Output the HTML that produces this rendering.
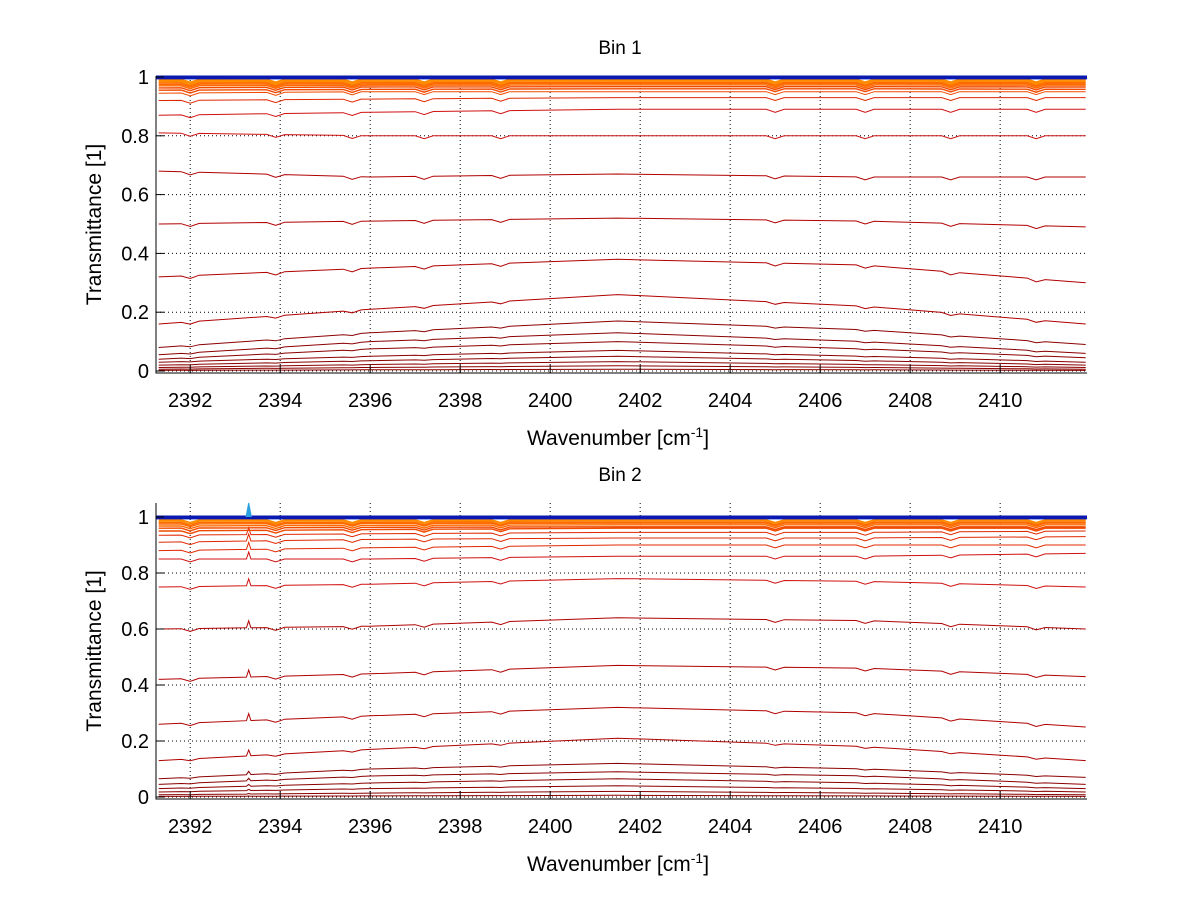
<!DOCTYPE html>
<html><head><meta charset="utf-8">
<style>
body{margin:0;background:#fff;}
svg{display:block;font-family:"Liberation Sans",sans-serif;}
</style></head>
<body>
<svg id="chart" width="1200" height="901" viewBox="0 0 1200 901"></svg>
<script>
// ---- data ----
const xTicks = [2392,2394,2396,2398,2400,2402,2404,2406,2408,2410];
const yTicks = [0,0.2,0.4,0.6,0.8,1];
const knotX = [2391.3,2396,2401.5,2407,2411.9];
const dipX = [2392,2393.9,2395.6,2397.2,2398.9,2405,2407,2408.9,2410.8];
const bin1Curves = [
 [0.002,0.004,0.006,0.004,0.002],[0.006,0.012,0.018,0.012,0.006],[0.012,0.022,0.032,0.022,0.012],
 [0.02,0.035,0.05,0.035,0.02],[0.03,0.05,0.07,0.05,0.03],[0.04,0.075,0.1,0.075,0.045],
 [0.055,0.1,0.13,0.1,0.06],[0.08,0.13,0.17,0.14,0.09],[0.16,0.21,0.26,0.22,0.16],
 [0.32,0.35,0.38,0.36,0.3],[0.5,0.51,0.52,0.51,0.49],[0.68,0.66,0.67,0.66,0.66],
 [0.81,0.8,0.8,0.8,0.8],[0.87,0.88,0.89,0.89,0.89],[0.92,0.925,0.93,0.93,0.93],
 [0.945,0.95,0.95,0.95,0.95],[0.955,0.958,0.96,0.96,0.958],[0.963,0.966,0.967,0.967,0.966],
 [0.97,0.972,0.973,0.973,0.972],[0.975,0.977,0.978,0.978,0.977],[0.98,0.981,0.982,0.982,0.981],
 [0.984,0.985,0.986,0.986,0.985],[0.988,0.989,0.99,0.99,0.989],[0.992,0.993,0.993,0.993,0.993]
];
const bin2Curves = [
 [0.002,0.004,0.006,0.004,0.002],[0.008,0.014,0.02,0.014,0.008],[0.018,0.03,0.04,0.03,0.018],
 [0.03,0.05,0.065,0.05,0.03],[0.045,0.075,0.09,0.075,0.045],[0.065,0.1,0.12,0.1,0.07],
 [0.13,0.17,0.21,0.18,0.13],[0.26,0.29,0.32,0.3,0.25],[0.42,0.44,0.47,0.46,0.43],
 [0.6,0.61,0.64,0.63,0.6],[0.75,0.76,0.78,0.77,0.75],[0.85,0.85,0.86,0.86,0.87],
 [0.88,0.89,0.9,0.9,0.9],[0.91,0.92,0.925,0.925,0.93],[0.935,0.94,0.945,0.945,0.95],
 [0.95,0.955,0.96,0.96,0.96],[0.96,0.963,0.965,0.965,0.965],[0.968,0.97,0.972,0.972,0.972],
 [0.975,0.977,0.978,0.978,0.978],[0.98,0.981,0.982,0.982,0.982],[0.985,0.986,0.987,0.987,0.987],
 [0.99,0.99,0.99,0.99,0.99]
];
const topLevel = [1.0,0.997];
const bin2Spike = 2393.3;

// ---- drawing ----
const NS="http://www.w3.org/2000/svg";
const svg=document.getElementById('chart');
function mk(tag,attrs,parent){const e=document.createElementNS(NS,tag);for(const k in attrs)e.setAttribute(k,attrs[k]);(parent||svg).appendChild(e);return e;}
const X0=2391.24,X1=2411.93,L=156,R=1087;
function xs(v){return L+(v-X0)/(X1-X0)*(R-L);}
function colorFor(v){ if(v<0.2) return '#8b0000'; if(v<0.75) return '#b00000'; if(v<0.9) return '#d01010'; if(v<0.95) return '#e02800'; if(v<0.97) return '#f04a00'; if(v<0.985) return '#ff6a00'; return '#ff8c00'; }
function interp(vals,x){for(let i=0;i<knotX.length-1;i++){if(x<=knotX[i+1]){const t=(x-knotX[i])/(knotX[i+1]-knotX[i]);return vals[i]+t*(vals[i+1]-vals[i]);}}return vals[vals.length-1];}

function panel(name,title,top,y0pix,ppu,curves,spike){
  const g=mk('g',{});
  
  
  const ys=v=>y0pix-v*ppu;
  const bottom=y0pix+2;
  xTicks.forEach(t=>{const l=mk('line',{x1:xs(t),x2:xs(t),y1:top,y2:bottom,stroke:'#000','stroke-width':1,'stroke-dasharray':'1,3'},g);
    });
  yTicks.forEach(t=>{const l=mk('line',{x1:L,x2:R,y1:ys(t),y2:ys(t),stroke:'#000','stroke-width':1,'stroke-dasharray':'1,3'},g);
    });
  curves.forEach(c=>{
    const pts=[];const xsOrder=[...knotX];
    dipX.forEach(d=>{xsOrder.push(d-0.2,d,d+0.2);});
    if(spike) xsOrder.push(spike-0.05,spike,spike+0.05);
    xsOrder.sort((a,b)=>a-b);
    const m=c[2];
    xsOrder.forEach(x=>{
      let v=interp(c,x);
      if(dipX.some(d=>Math.abs(d-x)<1e-6)) v-= 0.01*Math.min(1,m*3);
      if(spike && Math.abs(x-spike)<1e-6 && m<0.95) v+=0.025*Math.min(1,m*4);
      pts.push(xs(x).toFixed(1)+','+ys(v).toFixed(1));
    });
    const p=mk('polyline',{points:pts.join(' '),fill:'none',stroke:colorFor(m),'stroke-width':m>0.95?1.4:1},g);
    
    
  });
  topLevel.forEach(v=>{const p=mk('line',{x1:L,x2:R,y1:ys(v),y2:ys(v),stroke:'#0a1ab0','stroke-width':3},g);
    });
  if(spike){const p=mk('polyline',{points:`${xs(spike-0.06)},${ys(1)} ${xs(spike)},${ys(1.05)} ${xs(spike+0.06)},${ys(1)}`,fill:'#2aa0e0',stroke:'#2aa0e0'},g);
    }
  const ax=mk('path',{d:`M${L},${top} V${bottom} H${R}`,stroke:'#000','stroke-width':1,fill:'none'},g);
  
  xTicks.forEach(t=>{mk('line',{x1:xs(t),x2:xs(t),y1:bottom,y2:bottom-8,stroke:'#000'},g);
    const tx=mk('text',{x:xs(t),y:bottom+34,'font-size':20,'text-anchor':'middle'},g);tx.textContent=t;
    });
  yTicks.forEach(t=>{mk('line',{x1:L,x2:L+8,y1:ys(t),y2:ys(t),stroke:'#000'},g);
    const tx=mk('text',{x:L-7,y:ys(t)+7,'font-size':20,'text-anchor':'end'},g);tx.textContent=String(t);
    });
  const ti=mk('text',{x:620,y:top-22,'font-size':19,'text-anchor':'middle'},g);ti.textContent=title;
  
  const xl=mk('text',{x:618,y:bottom+72,'font-size':21,'text-anchor':'middle'},g);
  xl.innerHTML='Wavenumber [cm<tspan baseline-shift="super" font-size="14">-1</tspan>]';
  
  const yc=(top+bottom)/2;
  const yl=mk('text',{x:101,y:yc,'font-size':21,'text-anchor':'middle',transform:`rotate(-90 101 ${yc})`},g);
  yl.textContent='Transmittance [1]';
  
}
panel('bin-1-panel','Bin 1',76,371,294,bin1Curves,null);
panel('bin-2-panel','Bin 2',503,797,280,bin2Curves,bin2Spike);
</script>
</body></html>
